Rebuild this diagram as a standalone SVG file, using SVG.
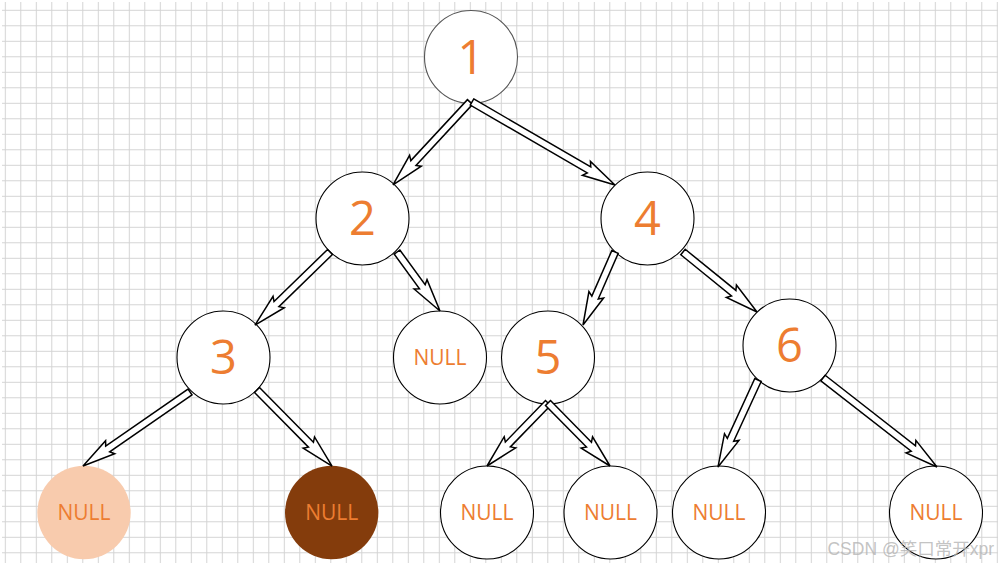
<svg xmlns="http://www.w3.org/2000/svg" width="998" height="567" viewBox="0 0 998 567">
<defs>
<pattern id="grid" patternUnits="userSpaceOnUse" x="4.8" y="9.8" width="15.5" height="15.5">
<path d="M0 0.5 H15.5 M0.5 0 V15.5" stroke="#d3d3d3" stroke-width="1" fill="none"/>
</pattern>
<style>
.n{fill:#fff;stroke:#000;stroke-width:1.1}
.d{font-family:"Open Sans","Noto Sans",sans-serif;font-size:47px;fill:#ED7D31;text-anchor:middle}
.t{font-family:"Open Sans","Noto Sans",sans-serif;font-size:21px;fill:#ED7D31;text-anchor:middle}
.a{fill:#fff;stroke:#000;stroke-width:1.5;stroke-linejoin:miter}
</style>
</defs>
<rect width="998" height="567" fill="#fff"/>
<rect x="2" y="2" width="996" height="561" fill="url(#grid)"/>
<g id="node1"><circle cx="471" cy="57" r="46.5" class="n" style="stroke:#555"/><text x="471" y="73.5" class="d">1</text></g>
<g id="node2"><circle cx="362.5" cy="218.5" r="46.5" class="n"/><text x="362.5" y="235" class="d">2</text></g>
<g id="node4"><circle cx="647.5" cy="218.5" r="46.5" class="n"/><text x="647.5" y="235" class="d">4</text></g>
<g id="node3"><circle cx="223.5" cy="357.5" r="46.5" class="n"/><text x="223.5" y="374" class="d">3</text></g>
<g id="null2r"><circle cx="440" cy="357.5" r="46.5" class="n"/><text x="440" y="365" class="t">NULL</text></g>
<g id="node5"><circle cx="548" cy="357.5" r="46.5" class="n"/><text x="548" y="374" class="d">5</text></g>
<g id="node6"><circle cx="789.5" cy="345.5" r="46.5" class="n"/><text x="789.5" y="362" class="d">6</text></g>
<g id="null3l"><circle cx="84" cy="512.5" r="46.7" fill="#F8CBAD"/><text x="84" y="520" class="t">NULL</text></g>
<g id="null3r"><circle cx="331.7" cy="512.5" r="46.7" fill="#843C0C"/><text x="331.7" y="520" class="t">NULL</text></g>
<g id="null5l"><circle cx="487" cy="512.5" r="46.5" class="n"/><text x="487" y="520" class="t">NULL</text></g>
<g id="null5r"><circle cx="610.5" cy="512.5" r="46.5" class="n"/><text x="610.5" y="520" class="t">NULL</text></g>
<g id="null6l"><circle cx="719" cy="512.5" r="46.5" class="n"/><text x="719" y="520" class="t">NULL</text></g>
<g id="null6r"><circle cx="936" cy="512.5" r="46.5" class="n"/><text x="936" y="520" class="t">NULL</text></g>
<g id="connectors">
<polygon class="a" transform="translate(470,102) rotate(132.85)" points="0,-3.5 83.2,-3.5 80.2,-8 113.2,0 80.2,8 83.2,3.5 0,3.5"/>
<polygon class="a" transform="translate(472,102) rotate(30.13)" points="0,-3.5 135.3,-3.5 132.3,-8 165.3,0 132.3,8 135.3,3.5 0,3.5"/>
<polygon class="a" transform="translate(330,252) rotate(135.77)" points="0,-3.5 74.7,-3.5 71.7,-8 104.7,0 71.7,8 74.7,3.5 0,3.5"/>
<polygon class="a" transform="translate(397,252) rotate(53.92)" points="0,-3.5 43,-3.5 40,-8 73,0 40,8 43,3.5 0,3.5"/>
<polygon class="a" transform="translate(615,252) rotate(113.67)" points="0,-3.5 49.7,-3.5 46.7,-8 79.7,0 46.7,8 49.7,3.5 0,3.5"/>
<polygon class="a" transform="translate(683,252) rotate(39.04)" points="0,-3.5 65.3,-3.5 62.3,-8 95.3,0 62.3,8 65.3,3.5 0,3.5"/>
<polygon class="a" transform="translate(190,392) rotate(145.33)" points="0,-3.5 100.1,-3.5 97.1,-8 130.1,0 97.1,8 100.1,3.5 0,3.5"/>
<polygon class="a" transform="translate(257,390) rotate(45.38)" points="0,-3.5 76.8,-3.5 73.8,-8 106.8,0 73.8,8 76.8,3.5 0,3.5"/>
<polygon class="a" transform="translate(548,403) rotate(134.08)" points="0,-3.5 57.7,-3.5 54.7,-8 87.7,0 54.7,8 57.7,3.5 0,3.5"/>
<polygon class="a" transform="translate(548,403) rotate(45.46)" points="0,-3.5 58.4,-3.5 55.4,-8 88.4,0 55.4,8 58.4,3.5 0,3.5"/>
<polygon class="a" transform="translate(758,380) rotate(114.70)" points="0,-3.5 65.8,-3.5 62.8,-8 95.8,0 62.8,8 65.8,3.5 0,3.5"/>
<polygon class="a" transform="translate(823,378) rotate(37.98)" points="0,-3.5 114.6,-3.5 111.6,-8 144.6,0 111.6,8 114.6,3.5 0,3.5"/>
</g>
<text x="994" y="555" font-family="Liberation Sans,'Noto Sans CJK SC',sans-serif" font-size="17.5" fill="#b4b4b4" fill-opacity="0.8" text-anchor="end">CSDN @笑口常开xpr</text>
</svg>
